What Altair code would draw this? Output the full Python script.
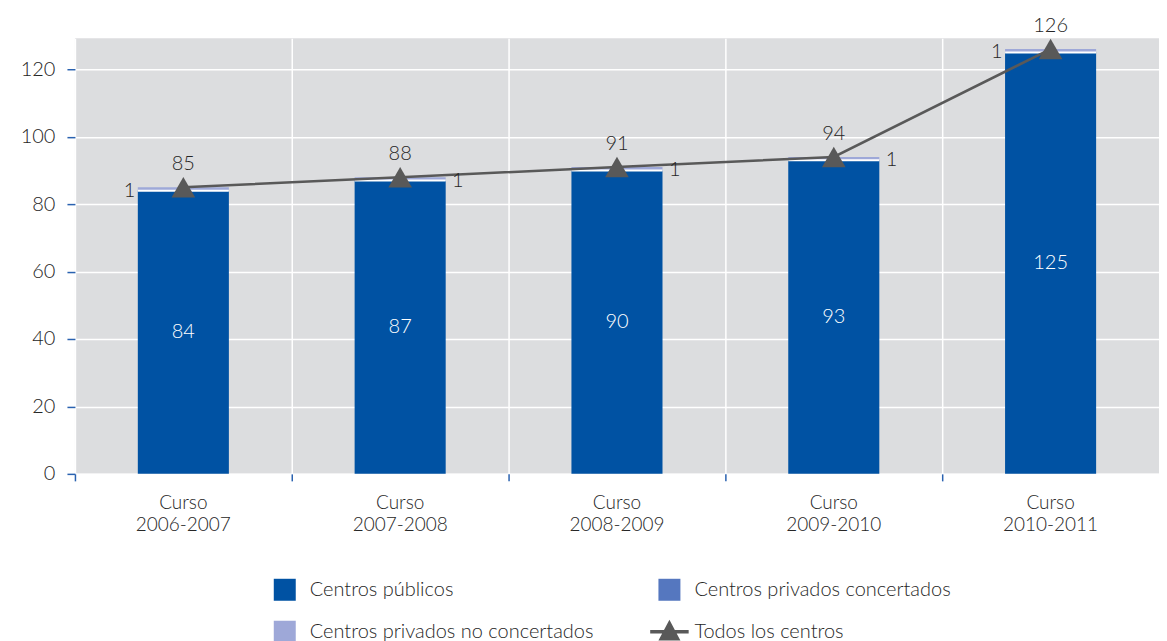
import altair as alt
import pandas as pd

cursos = ["Curso 2006-2007", "Curso 2007-2008", "Curso 2008-2009", "Curso 2009-2010", "Curso 2010-2011"]
publicos = [84, 87, 90, 93, 125]
concertados = [0, 0, 0, 0, 0]
no_concertados = [1, 1, 1, 1, 1]
totales = [85, 88, 91, 94, 126]
lado_etiqueta = ["izquierda", "derecha", "derecha", "derecha", "izquierda"]

# legend order (laid out column by column in two columns)
series = ["Centros públicos", "Centros privados no concertados",
          "Centros privados concertados", "Todos los centros"]
colores = ["#0052a3", "#9ea8d8", "#5577bf", "#595959"]
triangulo_leyenda = "M-1.75,-0.15H1.75V0.15H-1.75Z M0,-1.1L1,0.8H-1Z"
formas = ["square", "square", "square", triangulo_leyenda]

FONT = "Lato"
FW = 300
FS = 20
TXT = "#262626"
AXIS_BLUE = "#2a62b0"

filas = []
for i, c in enumerate(cursos):
    filas.append({"curso": c, "serie": "Centros públicos", "valor": publicos[i], "orden": 0})
    filas.append({"curso": c, "serie": "Centros privados concertados", "valor": concertados[i], "orden": 1})
    filas.append({"curso": c, "serie": "Centros privados no concertados", "valor": no_concertados[i], "orden": 2})
df_barras = pd.DataFrame(filas)

df_tot = pd.DataFrame({
    "curso": cursos,
    "publicos": publicos,
    "no_concertados": no_concertados,
    "total": totales,
    "lado": lado_etiqueta,
    "serie": "Todos los centros",
})

leyenda = alt.Legend(
    orient="none", legendX=199, legendY=541, columns=2, title=None,
    symbolSize=484, labelFontSize=FS, labelFont=FONT, labelFontWeight=FW, labelColor=TXT,
    labelOffset=14, columnPadding=55, rowPadding=18, labelLimit=500,
    symbolStrokeWidth=0, symbolOpacity=1,
)
color_scale = alt.Scale(domain=series, range=colores)
shape_scale = alt.Scale(domain=series, range=formas)

x_enc = alt.X(
    "curso:N", sort=cursos, title=None,
    scale=alt.Scale(paddingInner=0, paddingOuter=0),
    axis=alt.Axis(
        labelAngle=0, domain=False, ticks=True, tickColor=AXIS_BLUE, tickSize=7,
        tickWidth=1.5, bandPosition=0, grid=True, gridColor="white", gridWidth=1.5,
        labelFontSize=19, labelFont=FONT, labelFontWeight=FW, labelColor=TXT, labelLineHeight=22,
        labelBaseline="top", labelPadding=13,
        labelExpr="split(datum.label, ' ')",
    ),
)
y_scale = alt.Scale(domain=[0, 129.2], nice=False, zero=True)
y_axis = alt.Axis(
    values=[0, 20, 40, 60, 80, 100, 120], domain=False, tickColor=AXIS_BLUE,
    tickSize=8, tickWidth=1.5, grid=True, gridColor="white", gridWidth=1.5,
    labelFontSize=FS, labelFont=FONT, labelFontWeight=FW, labelColor=TXT, labelPadding=12, title=None,
)

barras = alt.Chart(df_barras).mark_bar(width=alt.RelativeBandSize(0.42)).encode(
    x=x_enc,
    y=alt.Y("valor:Q", stack="zero", scale=y_scale, axis=y_axis),
    color=alt.Color("serie:N", scale=color_scale, legend=leyenda),
    order=alt.Order("orden:Q", sort="ascending"),
)

separador = alt.Chart(df_tot).mark_tick(color="white", thickness=2, size=91, opacity=1).encode(
    x=x_enc, y=alt.Y("publicos:Q", scale=y_scale),
)

simbolo_leyenda = alt.Chart(df_tot).transform_filter("false").mark_point(
    filled=True, opacity=1
).encode(
    x=x_enc, y=alt.Y("total:Q", scale=y_scale),
    color=alt.Color("serie:N", scale=color_scale, legend=leyenda),
    shape=alt.Shape("serie:N", scale=shape_scale, legend=leyenda),
)

linea = alt.Chart(df_tot).mark_line(color="#595959", strokeWidth=2.5).encode(
    x=x_enc, y=alt.Y("total:Q", scale=y_scale),
)

puntos = alt.Chart(df_tot).mark_point(
    shape="triangle-up", filled=True, color="#595959", opacity=1, size=560
).encode(
    x=x_enc, y=alt.Y("total:Q", scale=y_scale),
)

txt_total = alt.Chart(df_tot).mark_text(
    dy=-23, fontSize=FS, font=FONT, fontWeight=FW, color=TXT, baseline="middle"
).encode(
    x=x_enc, y=alt.Y("total:Q", scale=y_scale), text="total:Q",
)

txt_publicos = alt.Chart(df_tot).transform_calculate(
    medio="datum.publicos / 2"
).mark_text(fontSize=FS, font=FONT, fontWeight=FW, color="white", baseline="middle").encode(
    x=x_enc, y=alt.Y("medio:Q", scale=y_scale), text="publicos:Q",
)

txt_izq = alt.Chart(df_tot).transform_filter("datum.lado == 'izquierda'").mark_text(
    fontSize=FS, font=FONT, fontWeight=FW, color=TXT, align="right", baseline="middle", dx=-48
).encode(
    x=x_enc, y=alt.Y("publicos:Q", scale=y_scale), text="no_concertados:Q",
)

txt_der = alt.Chart(df_tot).transform_filter("datum.lado == 'derecha'").mark_text(
    fontSize=FS, font=FONT, fontWeight=FW, color=TXT, align="left", baseline="middle", dx=52
).encode(
    x=x_enc, y=alt.Y("publicos:Q", scale=y_scale), text="no_concertados:Q",
)

chart = alt.layer(
    barras, separador, simbolo_leyenda, linea, puntos,
    txt_total, txt_publicos, txt_izq, txt_der,
).properties(
    width=1085, height=436,
    autosize=alt.AutoSizeParams(type="none"),
    padding={"left": 67, "top": 30, "right": 0, "bottom": 167},
).configure(
    font=FONT,
).configure_view(
    fill="#dcdddf", stroke=None,
)

chart.save("out.html", embed_options={"renderer": "svg", "actions": False})
